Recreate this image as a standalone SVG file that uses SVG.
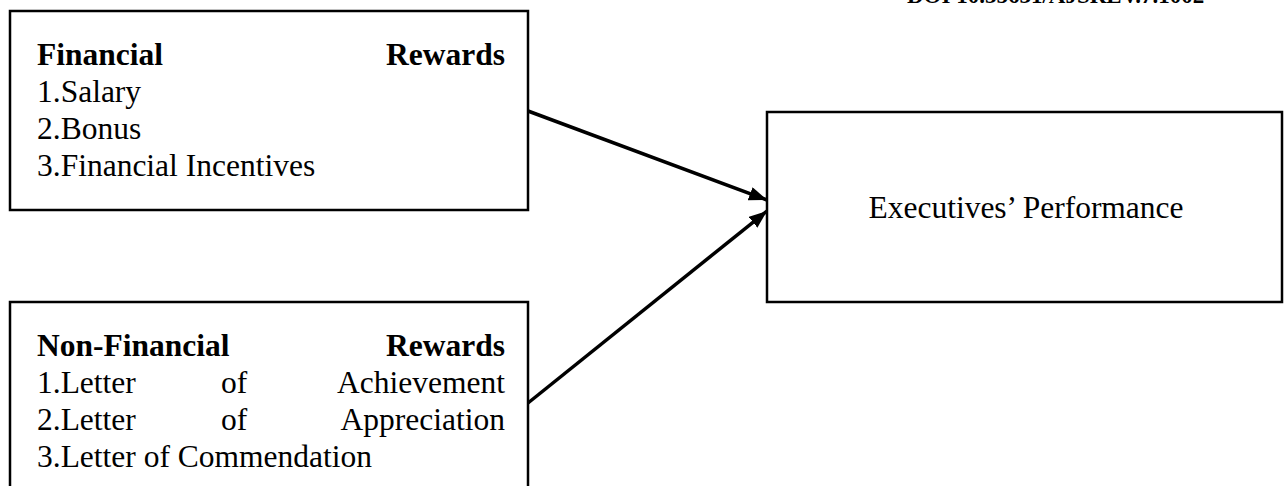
<svg xmlns="http://www.w3.org/2000/svg" width="1287" height="486" viewBox="0 0 1287 486">
  <style>
    .box { fill: #ffffff; stroke: #000000; stroke-width: 2.5; }
    .t { font-family: "Liberation Serif", "Times New Roman", serif; font-size: 31.5px; fill: #000000; }
    .b { font-weight: bold; }
    .conn { stroke: #000000; stroke-width: 3.5; fill: none; marker-end: url(#arrow); }
  </style>
  <defs>
    <marker id="arrow" markerUnits="userSpaceOnUse" markerWidth="20" markerHeight="16" refX="18" refY="7" orient="auto">
      <path d="M0,0 L18,7 L0,14 Z" fill="#000000"/>
    </marker>
  </defs>
  <rect width="1287" height="486" fill="#ffffff"/>
  <text class="t b" x="907" y="3" style="font-size:23px">DOI 10.35631/AJSREV.7.1002</text>
  <g id="connectors">
    <line class="conn" x1="528" y1="111" x2="767" y2="200"/>
    <line class="conn" x1="528" y1="403" x2="767" y2="211"/>
  </g>
  <g id="financial">
    <rect class="box" x="10" y="11" width="518" height="199"/>
    <text class="t b" x="37" y="65">Financial</text>
    <text class="t b" x="505" y="65" text-anchor="end">Rewards</text>
    <text class="t" x="37" y="102">1.Salary</text>
    <text class="t" x="37" y="139">2.Bonus</text>
    <text class="t" x="37" y="176">3.Financial Incentives</text>
  </g>
  <g id="nonfinancial">
    <rect class="box" x="10" y="302" width="518" height="200"/>
    <text class="t b" x="37" y="356">Non-Financial</text>
    <text class="t b" x="505" y="356" text-anchor="end">Rewards</text>
    <text class="t" x="37" y="393">1.Letter</text>
    <text class="t" x="221" y="393">of</text>
    <text class="t" x="505" y="393" text-anchor="end">Achievement</text>
    <text class="t" x="37" y="430">2.Letter</text>
    <text class="t" x="221" y="430">of</text>
    <text class="t" x="505" y="430" text-anchor="end">Appreciation</text>
    <text class="t" x="37" y="467">3.Letter of Commendation</text>
  </g>
  <g id="performance">
    <rect class="box" x="767" y="112" width="515" height="190"/>
    <text class="t" x="1026" y="218" text-anchor="middle">Executives’ Performance</text>
  </g>
</svg>
